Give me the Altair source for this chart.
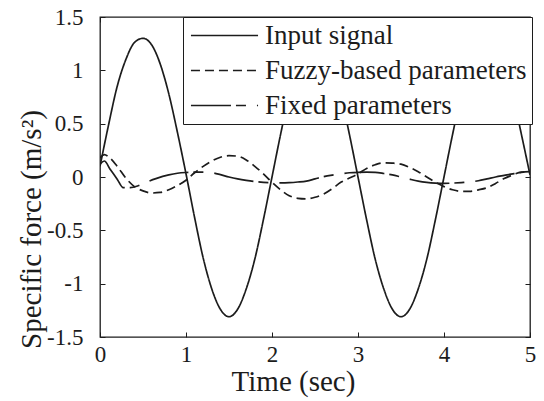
import altair as alt
import pandas as pd

# ---------------- data ----------------
series_names = ["Input signal", "Fuzzy-based parameters", "Fixed parameters"]

input_t = [0.0, 0.1, 0.2, 0.3, 0.4, 0.5, 0.6, 0.7, 0.8, 0.9,
           1.0, 1.1, 1.2, 1.3, 1.4, 1.5, 1.6, 1.7, 1.8, 1.9,
           2.0, 2.1, 2.2, 2.3, 2.4, 2.5, 2.6, 2.7, 2.8, 2.9,
           3.0, 3.1, 3.2, 3.3, 3.4, 3.5, 3.6, 3.7, 3.8, 3.9,
           4.0, 4.1, 4.2, 4.3, 4.4, 4.5, 4.6, 4.7, 4.8, 4.9, 5.0]
input_v = [0.10, 0.49, 0.85, 1.10, 1.26, 1.30, 1.24, 1.06, 0.78, 0.42,
           0.03, -0.38, -0.76, -1.05, -1.24, -1.31, -1.24, -1.05, -0.77, -0.40,
           0.00, 0.40, 0.77, 1.05, 1.24, 1.30, 1.24, 1.05, 0.77, 0.40,
           0.00, -0.40, -0.77, -1.05, -1.24, -1.31, -1.24, -1.05, -0.77, -0.40,
           0.00, 0.40, 0.77, 1.05, 1.24, 1.30, 1.24, 1.05, 0.77, 0.40, 0.02]

fuzzy_t = [0.0, 0.05, 0.1, 0.2, 0.3, 0.4, 0.5, 0.6, 0.7, 0.8, 0.9,
           1.0, 1.1, 1.2, 1.3, 1.4, 1.5, 1.6, 1.7, 1.8, 1.9,
           2.0, 2.1, 2.2, 2.3, 2.4, 2.5, 2.6, 2.7, 2.8, 2.9,
           3.0, 3.1, 3.2, 3.3, 3.4, 3.5, 3.6, 3.7, 3.8, 3.9,
           4.0, 4.1, 4.2, 4.3, 4.4, 4.5, 4.6, 4.7, 4.8, 4.9, 5.0]
fuzzy_v = [0.18, 0.21, 0.19, 0.10, -0.01, -0.09, -0.13, -0.15, -0.145, -0.12, -0.08,
           -0.03, 0.04, 0.10, 0.15, 0.185, 0.20, 0.195, 0.16, 0.10, 0.03,
           -0.05, -0.12, -0.175, -0.20, -0.205, -0.19, -0.16, -0.11, -0.05, -0.01,
           0.03, 0.08, 0.115, 0.133, 0.13, 0.12, 0.09, 0.05, 0.0, -0.05,
           -0.09, -0.12, -0.135, -0.135, -0.12, -0.10, -0.06, -0.015, 0.02, 0.045, 0.05]

fixed_t = [0.0, 0.05, 0.12, 0.2, 0.27, 0.35, 0.45, 0.55, 0.65, 0.8, 0.9,
           1.0, 1.1, 1.2, 1.3, 1.4, 1.5, 1.6, 1.7, 1.8, 1.9,
           2.0, 2.1, 2.2, 2.3, 2.4, 2.5, 2.6, 2.7, 2.8, 2.9,
           3.0, 3.1, 3.2, 3.3, 3.4, 3.5, 3.6, 3.7, 3.8, 3.9,
           4.0, 4.1, 4.2, 4.3, 4.4, 4.5, 4.6, 4.7, 4.8, 4.9, 5.0]
fixed_v = [0.12, 0.15, 0.07, -0.02, -0.10, -0.10, -0.08, -0.045, -0.015, 0.02, 0.035,
           0.042, 0.045, 0.045, 0.04, 0.022, 0.0, -0.018, -0.032, -0.043, -0.05,
           -0.053, -0.055, -0.053, -0.047, -0.038, -0.018, 0.003, 0.018, 0.03, 0.04,
           0.044, 0.045, 0.043, 0.033, 0.02, 0.0, -0.02, -0.038, -0.05, -0.057,
           -0.06, -0.057, -0.052, -0.046, -0.035, -0.018, 0.0, 0.015, 0.03, 0.043, 0.05]

x_ticks = [0, 1, 2, 3, 4, 5]
y_ticks = [-1.5, -1, -0.5, 0, 0.5, 1, 1.5]

frames = []
for name, ts, vs in [(series_names[0], input_t, input_v),
                     (series_names[1], fuzzy_t, fuzzy_v),
                     (series_names[2], fixed_t, fixed_v)]:
    frames.append(pd.DataFrame({"t": ts, "v": vs, "series": name}))
df = pd.concat(frames, ignore_index=True)

# ---------------- styling ----------------
FONT = "Liberation Serif"
INK = "#1c1c1c"
W, H = 430, 320

x_scale = alt.Scale(domain=[0, 5], nice=False, zero=False)
y_scale = alt.Scale(domain=[-1.5, 1.5], nice=False, zero=False)
dash_scale = alt.Scale(domain=series_names,
                       range=[[1, 0], [9, 5], [40, 5, 10, 11]])

legend = alt.Legend(
    orient="none", legendX=83, legendY=0, title=None,
    fillColor="white", strokeColor=INK, padding=5, rowPadding=7,
    symbolType="M-3,0H3", symbolSize=500, symbolStrokeWidth=1.7,
    symbolStrokeColor=INK, symbolOffset=23, labelOffset=27,
    labelFont=FONT, labelFontSize=27, labelColor=INK, labelLimit=0,
    zindex=1,
)

lines = alt.Chart(df).mark_line(
    strokeWidth=1.7, color=INK, interpolate="monotone", clip=True
).encode(
    x=alt.X("t:Q", scale=x_scale, axis=alt.Axis(
        orient="bottom", values=x_ticks, ticks=False, domain=False, grid=False,
        labelFont=FONT, labelFontSize=23, labelColor=INK, labelPadding=24,
        labelBaseline="alphabetic", labelFlush=False, labelOverlap=False,
        title="Time (sec)", titleFont=FONT, titleFontSize=29,
        titleFontWeight="normal", titleColor=INK, titleX=193, titleY=53,
        titleBaseline="alphabetic", titleAlign="center")),
    y=alt.Y("v:Q", scale=y_scale, axis=alt.Axis(
        orient="left", values=y_ticks, ticks=False, domain=False, grid=False,
        labelFont=FONT, labelFontSize=23, labelColor=INK, labelPadding=17,
        labelExpr="toString(datum.value)", labelFlush=False, labelOverlap=False,
        title="Specific force (m/s²)", titleFont=FONT, titleFontSize=29,
        titleFontWeight="normal", titleColor=INK, titleX=-60, titleY=212,
        titleAngle=270, titleBaseline="alphabetic", titleAlign="center")),
    strokeDash=alt.StrokeDash("series:N", scale=dash_scale, legend=legend),
    detail="series:N",
)


def tick_axis(orient, values, offset):
    return alt.Axis(orient=orient, values=values, offset=offset, labels=False,
                    domain=False, grid=False, ticks=True, tickSize=5,
                    tickColor=INK, tickWidth=1, title=None, zindex=0)


ticks_a = alt.Chart(df).mark_point(opacity=0, size=1).encode(
    x=alt.X("t:Q", scale=x_scale, axis=tick_axis("top", x_ticks, -H)),
    y=alt.Y("v:Q", scale=y_scale, axis=tick_axis("right", y_ticks, -W)),
)
ticks_b = alt.Chart(df).mark_point(opacity=0, size=1).encode(
    x=alt.X("t:Q", scale=x_scale, axis=tick_axis("bottom", x_ticks, -H)),
    y=alt.Y("v:Q", scale=y_scale, axis=tick_axis("left", y_ticks, -W)),
)

chart = alt.layer(lines, ticks_a, ticks_b).resolve_axis(
    x="independent", y="independent"
).properties(
    width=W, height=H,
    autosize=alt.AutoSizeParams(type="none"),
    padding={"left": 100, "top": 17, "right": 14, "bottom": 64},
    background="white",
).configure_view(stroke=INK, strokeWidth=1.3)

chart.save("out.html", embed_options={"renderer": "svg", "actions": False})
